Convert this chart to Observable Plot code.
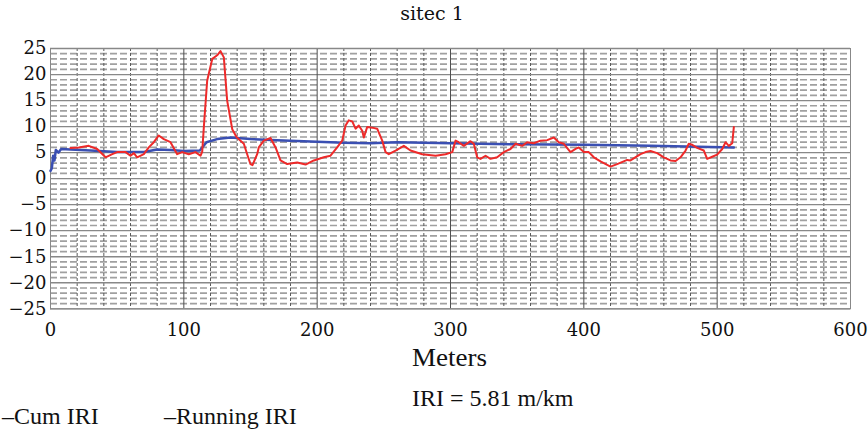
<!DOCTYPE html>
<html>
<head>
<meta charset="utf-8">
<script src="https://cdn.jsdelivr.net/npm/d3@7"></script>
<script src="https://cdn.jsdelivr.net/npm/@observablehq/plot@0.6"></script>
<style>
  html, body { margin: 0; padding: 0; background: #fff; }
  #wrap { position: relative; width: 868px; height: 432px; overflow: hidden; font-family: "Liberation Serif", "DejaVu Serif", serif; color: #111; }
  #chart { position: absolute; left: 0; top: 30px; }
  #chart svg text { font-family: "DejaVu Serif", serif; }
  .t { position: absolute; white-space: nowrap; line-height: 1; }
</style>
</head>
<body>
<div id="wrap">
  <div class="t" id="title" style="left:0; width:864px; text-align:center; top:4px; font-size:19px; font-family:'DejaVu Serif', serif;">sitec 1</div>
  <div id="chart"></div>
  <div class="t" id="xlabel" style="left:412px; top:345px; font-size:25px; transform:scaleX(1.08); transform-origin:left;">Meters</div>
  <div class="t" id="iri" style="left:412px; top:386px; font-size:24px;">IRI = 5.81 m/km</div>
  <div class="t" id="leg1" style="left:2px; top:404px; font-size:24px;">–Cum IRI</div>
  <div class="t" id="leg2" style="left:164px; top:404px; font-size:24px;">–Running IRI</div>
</div>
<script>
// Tick labels / grid positions
const xTicks = [0, 100, 200, 300, 400, 500, 600];
const yTicks = [-25, -20, -15, -10, -5, 0, 5, 10, 15, 20, 25];
const xMinor = [20, 40, 60, 80, 120, 140, 160, 180, 220, 240, 260, 280, 320, 340, 360, 380, 420, 440, 460, 480, 520, 540, 560, 580];
const yMinor = d3.range(-25, 26).filter(v => v % 5 !== 0);

// Running IRI (red)
const runX = [15, 21.2, 28.7, 35, 41.3, 46.3, 50, 56.3, 60, 62.5, 65, 70, 73.7, 77.5, 81.2, 85, 90, 95, 98.8, 103.7, 108.7,
  112.5, 113.8, 115, 117.5, 121.3, 125, 127.5, 130, 132.5, 136.3, 139.5, 142.5, 145, 147.5, 150, 151.5, 155, 156.2, 160, 165, 168.8, 172.5, 177.5, 185, 191.3, 197.5, 205, 210, 215,
  218.8, 221.3, 223.7, 226.3, 228.8, 231.2, 233.8, 235, 237.5, 241.3, 245, 248.8, 251.3, 253.7, 258.8, 265, 270, 278.8, 288.8, 296.3, 301.3, 303.8, 306.2, 310, 315, 317.5, 320, 322.5,
  326.3, 330, 335, 340, 345, 348.8, 353.8, 357.5, 362.5, 367.5, 372.5, 377.5, 381.2, 385, 390, 393.8, 396.2, 400, 403.7, 407.5, 412.5, 420, 425, 432.5,
  435, 442.5, 446.3, 450, 455, 460, 465, 468.8, 472.5, 476.3, 478.7, 481.3, 485, 490, 492.5, 496.3, 500, 503.8, 506.3, 508.7, 511.3, 512.5];
const runY = [5.9, 6.0, 6.3, 5.7, 4.1, 4.7, 5.1, 5.1, 4.4, 4.9, 4.1, 4.7, 6.0, 7.0, 8.3, 7.6, 7.0, 4.7, 5.1, 4.7, 5.1,
  4.4, 5.2, 9.9, 18.8, 23.0, 23.7, 24.5, 23.3, 15.0, 9.5, 8.0, 7.3, 6.7, 4.7, 2.8, 2.6, 4.7, 6.0, 7.3, 7.8, 6.0, 3.5, 2.8, 3.1, 2.7, 3.5, 4.1, 4.4, 6.0,
  7.3, 10.2, 11.2, 11.0, 9.6, 10.2, 9.2, 7.9, 9.9, 9.8, 9.6, 7.3, 5.1, 4.7, 5.4, 6.3, 5.4, 4.7, 4.4, 4.7, 5.1, 7.3, 7.0, 6.3, 7.2, 6.7, 4.1, 3.8,
  4.4, 3.8, 4.1, 5.1, 5.7, 6.7, 6.3, 7.0, 6.8, 7.3, 7.4, 7.9, 7.0, 6.7, 5.1, 5.7, 6.0, 5.1, 5.1, 4.1, 3.3, 2.3, 2.8, 3.6,
  3.5, 4.7, 5.1, 5.3, 4.9, 4.1, 3.5, 3.4, 4.1, 5.4, 6.7, 6.5, 5.9, 5.4, 3.8, 4.2, 4.6, 5.7, 7.0, 6.3, 6.8, 9.9];

// Cumulative IRI (blue)
const cumX = [0, 1, 2, 3, 4, 6, 8, 15, 30, 50, 70, 80, 90, 100, 112, 117, 125, 135, 150, 170, 180, 200, 220, 240, 260, 300, 350, 400, 450, 512.5];
const cumY = [1.5, 2.0, 4.4, 3.5, 5.5, 5.0, 5.7, 5.6, 5.4, 5.1, 5.1, 5.6, 5.5, 5.3, 5.4, 7.0, 7.6, 7.9, 7.6, 7.4, 7.3, 7.1, 6.9, 6.8, 7.0, 6.8, 6.6, 6.5, 6.3, 6.0];

const running = runX.map((x, i) => ({x, y: runY[i]}));
const cum = cumX.map((x, i) => ({x, y: cumY[i]}));

const chart = Plot.plot({
  width: 868,
  height: 340,
  marginLeft: 50,
  marginRight: 18,
  marginTop: 18,
  marginBottom: 61.7,
  style: {fontFamily: "'DejaVu Serif', serif", fontSize: "18px", color: "#111", background: "#fff"},
  x: {domain: [0, 600], ticks: xTicks, tickSize: 0, tickPadding: 14, label: null},
  y: {domain: [-25, 25], ticks: yTicks, tickSize: 0, tickPadding: 4, label: null},
  marks: [
    Plot.ruleY(yMinor, {stroke: "#a0a0a0", strokeWidth: 1.7, strokeDasharray: "7,3"}),
    Plot.ruleX(xMinor, {stroke: "#5a5a5a", strokeWidth: 1, strokeDasharray: "3,2"}),
    Plot.ruleY(yTicks, {stroke: "#888", strokeWidth: 1.3}),
    Plot.ruleX(xTicks, {stroke: "#505050", strokeWidth: 1}),
    Plot.frame({stroke: "#888"}),
    Plot.line(cum, {x: "x", y: "y", stroke: "#3a4fb2", strokeWidth: 2.5}),
    Plot.line(running, {x: "x", y: "y", stroke: "#ee2a2a", strokeWidth: 2})
  ]
});
document.getElementById("chart").appendChild(chart);
</script>
</body>
</html>
